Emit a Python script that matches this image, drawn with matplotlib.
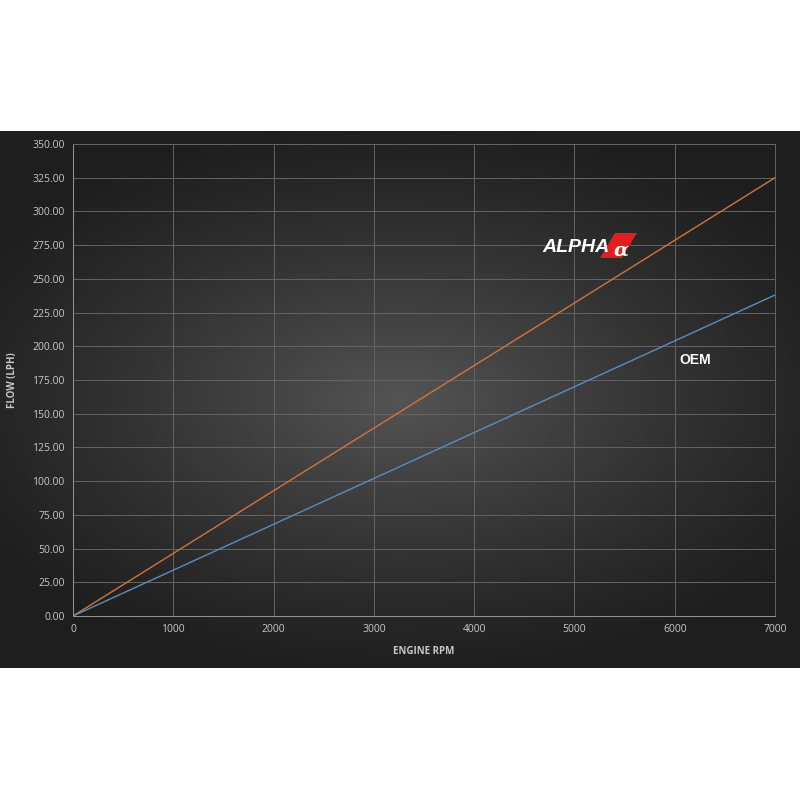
import numpy as np
import matplotlib
matplotlib.use("Agg")
import matplotlib.pyplot as plt
from matplotlib.patches import Polygon

# data
rpm = [0, 1000, 2000, 3000, 4000, 5000, 6000, 7000]
alpha_flow = [0, 46.4, 92.9, 139.3, 185.7, 232.1, 278.6, 325.0]
oem_flow = [0, 34.0, 68.0, 102.0, 136.0, 170.0, 204.0, 238.0]
y_ticks = [0, 25, 50, 75, 100, 125, 150, 175, 200, 225, 250, 275, 300, 325, 350]
x_ticks = [0, 1000, 2000, 3000, 4000, 5000, 6000, 7000]

plt.rcParams['font.family'] = ['Open Sans', 'DejaVu Sans']

fig = plt.figure(figsize=(8, 8), dpi=100)
fig.patch.set_facecolor('white')

# dark panel with a radial glow in the middle
bg = fig.add_axes([0, 0.165, 1, 0.67125])
bg.set_axis_off()
yy, xx = np.mgrid[-1:1:300j, -1:1:400j]
r = np.sqrt((xx / 1.0) ** 2 + (yy / 0.85) ** 2)
shade = np.clip(1 - r / 1.25, 0, 1)
lo = np.array([0x1e, 0x1e, 0x1e]) / 255
hi = np.array([0x54, 0x54, 0x54]) / 255
img = lo + (hi - lo) * shade[..., None] ** 1.2
bg.imshow(img, aspect='auto', extent=[0, 1, 0, 1])
bg.set_xlim(0, 1)
bg.set_ylim(0, 1)

ax = fig.add_axes([0.09125, 0.23, 0.8775, 0.59])
ax.patch.set_alpha(0)

ax.plot(rpm, alpha_flow, color='#d27538', lw=1.0)
ax.plot(rpm, oem_flow, color='#5b8cc0', lw=1.0)

ax.set_xlim(0, 7000)
ax.set_ylim(0, 350)
ax.set_xticks(x_ticks)
ax.set_yticks(y_ticks)
ax.set_yticklabels([f"{v:.2f}" for v in y_ticks])
ax.grid(True, color='#646464', lw=0.7)
ax.tick_params(colors='#c8c8c8', labelsize=7.5, length=0, pad=6)
for s in ax.spines.values():
    s.set_color('#646464')
    s.set_linewidth(0.7)
ax.spines['left'].set_color('#969696')
ax.spines['bottom'].set_color('#969696')

ax.set_xlabel('ENGINE RPM', color='#c8c8c8', fontsize=7, fontweight='bold', labelpad=8)
ax.set_ylabel('FLOW (LPH)', color='#c8c8c8', fontsize=7, fontweight='bold', labelpad=10)

# ALPHA logo: white italic word plus red slanted block with alpha sign
red = Polygon([[5255, 265.5], [5474, 265.5], [5624, 284], [5404, 284]], closed=True,
              facecolor='#e02020', edgecolor='none', zorder=4)
ax.add_patch(red)
ax.text(4677, 270, 'ALPHA', color='white', fontsize=14, fontweight='heavy',
        style='italic', family=['Liberation Sans', 'DejaVu Sans'], zorder=5)
ax.text(5390, 267, 'α', color='white', fontsize=14, fontweight='bold',
        style='italic', family=['DejaVu Serif'], zorder=5)

ax.text(6050, 187, 'OEM', color='white', fontsize=10, fontweight='heavy',
        family=['Liberation Sans', 'DejaVu Sans'])

fig.savefig('out.png', dpi=100, facecolor='white')
